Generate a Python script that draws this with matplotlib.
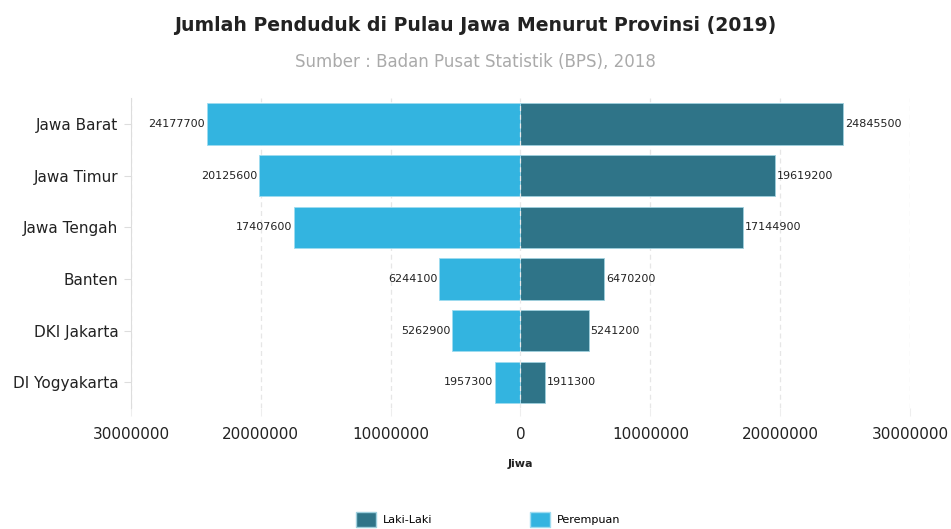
import numpy as np
import matplotlib.pyplot as plt
from matplotlib.patches import Patch

provinsi = ["Jawa Barat", "Jawa Timur", "Jawa Tengah", "Banten", "DKI Jakarta", "DI Yogyakarta"]
laki_laki = [24845500, 19619200, 17144900, 6470200, 5241200, 1911300]
perempuan = [24177700, 20125600, 17407600, 6244100, 5262900, 1957300]
x_ticks = [-30000000, -20000000, -10000000, 0, 10000000, 20000000, 30000000]
x_tick_labels = ["30000000", "20000000", "10000000", "0", "10000000", "20000000", "30000000"]

c_laki = "#2f7488"
c_pere = "#33b4e0"

fig = plt.figure(figsize=(9.51, 5.29), dpi=100)
ax = fig.add_axes([0.1377, 0.2287, 0.8192, 0.586])

y = np.arange(len(provinsi))
ax.barh(y, laki_laki, height=0.8, color=c_laki, edgecolor="#9fd0de", linewidth=0.6, zorder=2)
ax.barh(y, [-v for v in perempuan], height=0.8, color=c_pere, edgecolor="#9fdcf0", linewidth=0.6, zorder=2)

for yi, v in zip(y, laki_laki):
    ax.text(v + 150000, yi, str(v), va="center", ha="left", fontsize=8, color="#222222", zorder=3)
for yi, v in zip(y, perempuan):
    ax.text(-v - 150000, yi, str(v), va="center", ha="right", fontsize=8, color="#222222", zorder=3)

ax.set_xlim(-30000000, 30000000)
ax.set_ylim(len(provinsi) - 0.5, -0.5)
ax.set_yticks(y)
ax.set_yticklabels(provinsi, fontsize=11, color="#222222")
ax.set_xticks(x_ticks)
ax.set_xticklabels(x_tick_labels, fontsize=11, color="#222222")
ax.tick_params(axis="y", length=5, color="#dddddd", pad=4)
ax.tick_params(axis="x", length=6, color="#eeeeee", pad=8)

for xt in x_ticks:
    if xt == 0:
        ax.axvline(xt, color="#e8e8e8", linestyle=(0, (4, 3)), linewidth=0.9, zorder=3)
    else:
        ax.axvline(xt, color="#e6e6e6", linestyle=(0, (4, 3)), linewidth=0.9, zorder=1)

for s in ["top", "right", "bottom"]:
    ax.spines[s].set_visible(False)
ax.spines["left"].set_color("#dddddd")

ax.set_xlabel("Jiwa", fontsize=8, fontweight="bold", labelpad=12, color="#222222")

fig.text(0.5, 0.952, "Jumlah Penduduk di Pulau Jawa Menurut Provinsi (2019)",
         ha="center", va="center", fontsize=13.6, fontweight="bold", color="#222222")
fig.text(0.5, 0.882, "Sumber : Badan Pusat Statistik (BPS), 2018",
         ha="center", va="center", fontsize=12, color="#aaaaaa")

handles = [Patch(facecolor=c_laki, edgecolor="#9fd0de", label="Laki-Laki"),
           Patch(facecolor=c_pere, edgecolor="#9fdcf0", label="Perempuan")]
fig.legend(handles=handles, loc="center", bbox_to_anchor=(0.513, 0.018), ncol=2,
           frameon=False, fontsize=8, columnspacing=8.8, handlelength=1.8, handleheight=1.6,
           handletextpad=0.6)

fig.savefig("out.png", dpi=100)
